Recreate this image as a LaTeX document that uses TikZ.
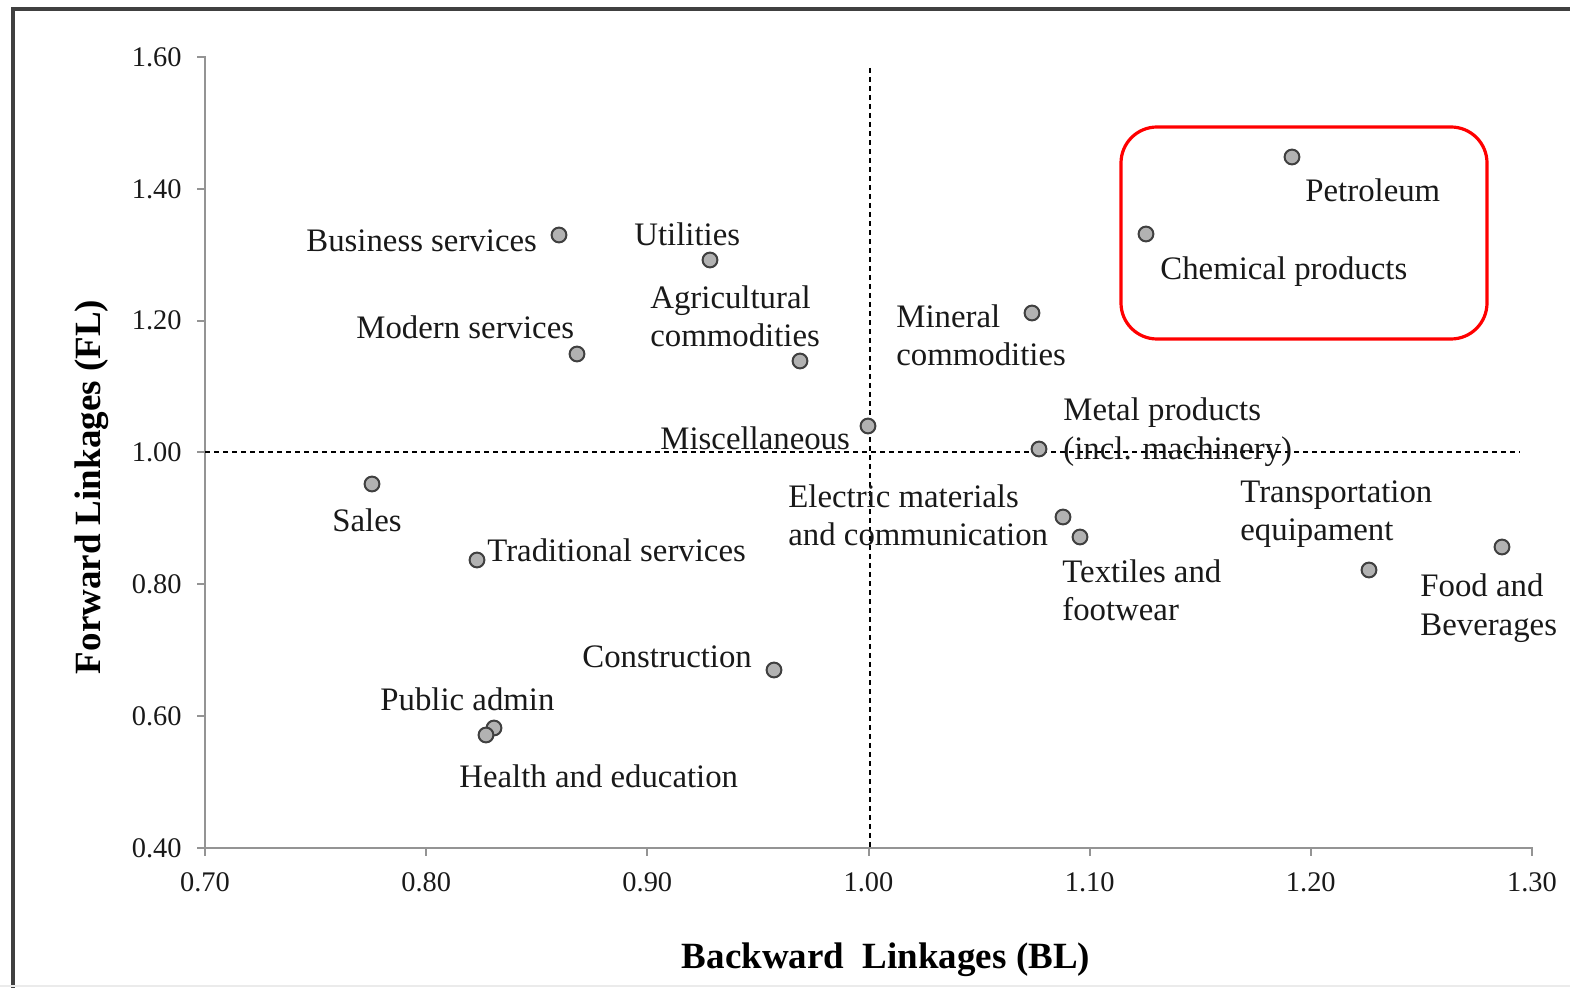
\documentclass[tikz,border=0pt]{standalone}
\usepackage{fontspec}
\setmainfont{Liberation Serif}
\begin{document}
\begin{tikzpicture}[x=0.5pt,y=-0.5pt,
  pt/.style={circle,draw=black!75,fill=black!30,line width=1pt,minimum size=7.4pt,inner sep=0pt},
  lab/.style={font=\fontsize{16.4pt}{19.2pt}\selectfont,inner sep=0pt,text=black!90},
  tickl/.style={font=\fontsize{14.2pt}{16pt}\selectfont,inner sep=0pt,text=black!90},
  axt/.style={font=\fontsize{18.5pt}{22pt}\selectfont\bfseries,inner sep=0pt},
  axis/.style={draw=black!42,line width=1pt},
  guide/.style={draw=black,line width=0.6pt,dash pattern=on 2.5pt off 2pt}]
\useasboundingbox (0,0) rectangle (1570,988);
% frame
\draw[black!75,line width=1.6pt] (13,988) -- (13,9) -- (1570,9);
\draw[black!8,line width=0.8pt] (0,986) -- (1570,986);
% axes
\draw[axis] (197,57) -- (205,57) -- (205,848) -- (1532,848) -- (1532,856);
\foreach \y in {188.8,320.6,452.5,584.3,716.2,848} \draw[axis] (197,\y) -- (205,\y);
\foreach \x in {205,426.2,647.3,868.5,1089.7,1310.8} \draw[axis] (\x,848) -- (\x,856);
% tick labels
\foreach \y/\t in {57/1.60,188.8/1.40,320.6/1.20,452.5/1.00,584.3/0.80,716.2/0.60,848/0.40}
  \node[tickl,anchor=east] (yl\t) at (182,\y) {\t};
\foreach \x/\t in {205/0.70,426.2/0.80,647.3/0.90,868.5/1.00,1089.7/1.10,1310.8/1.20,1532/1.30}
  \node[tickl,anchor=north] (xl\t) at (\x,872) {\t};
% axis titles
\node[axt] (xt) at (886,960) {Backward\ \ Linkages (BL)};
\node[axt,rotate=90] (yt) at (92,487) {Forward Linkages (FL)};
% guide lines
\draw[guide] (870,68) -- (870,848);
\draw[guide] (205,452) -- (1520,452);
% highlight box
\draw[red,line width=1.6pt,rounded corners=18pt] (1121,127) rectangle (1487,339);
% points
\node[pt] (p1) at (559,235) {};
\node[pt] (p2) at (710,260) {};
\node[pt] (p3) at (577,354) {};
\node[pt] (p4) at (800,361) {};
\node[pt] (p5) at (868,426) {};
\node[pt] (p6) at (1032,313) {};
\node[pt] (p7) at (1292,157) {};
\node[pt] (p8) at (1146,234) {};
\node[pt] (p9) at (1039,449) {};
\node[pt] (p10) at (372,484) {};
\node[pt] (p11) at (477,560) {};
\node[pt] (p12) at (1063,517) {};
\node[pt] (p13) at (1080,537) {};
\node[pt] (p14) at (1369,570) {};
\node[pt] (p15) at (1502,547) {};
\node[pt] (p16) at (774,670) {};
\node[pt] (p17) at (494,728) {};
\node[pt] (p18) at (486,735) {};
% labels
\node[lab,anchor=west] (l1) at (306,241) {Business services};
\node[lab,anchor=west] (l2) at (634,234) {Utilities};
\node[lab,anchor=west] (l3) at (356,327) {Modern services};
\node[lab,anchor=west,align=left] (l4) at (650,316) {Agricultural\\commodities};
\node[lab,anchor=west] (l5) at (660,438) {Miscellaneous};
\node[lab,anchor=west,align=left] (l6) at (896,335) {Mineral\\commodities};
\node[lab,anchor=west] (l7) at (1305,190) {Petroleum};
\node[lab,anchor=west] (l8) at (1160,272) {Chemical products};
\node[lab,anchor=west,align=left] (l9) at (1063,432) {Metal products\\(incl. machinery)};
\node[lab,anchor=west] (l10) at (332,520) {Sales};
\node[lab,anchor=west] (l11) at (487,550) {Traditional services};
\node[lab,anchor=west,align=left] (l12) at (788,515) {Electric materials\\and communication};
\node[lab,anchor=west,align=left] (l13) at (1062,590) {Textiles and\\footwear};
\node[lab,anchor=west,align=left] (l14) at (1240,514) {Transportation\\equipament};
\node[lab,anchor=west,align=left] (l15) at (1420,608) {Food and\\Beverages};
\node[lab,anchor=west] (l16) at (582,657) {Construction};
\node[lab,anchor=west] (l17) at (380,699) {Public admin};
\node[lab,anchor=west] (l18) at (459,776) {Health and education};
\end{tikzpicture}
\end{document}
